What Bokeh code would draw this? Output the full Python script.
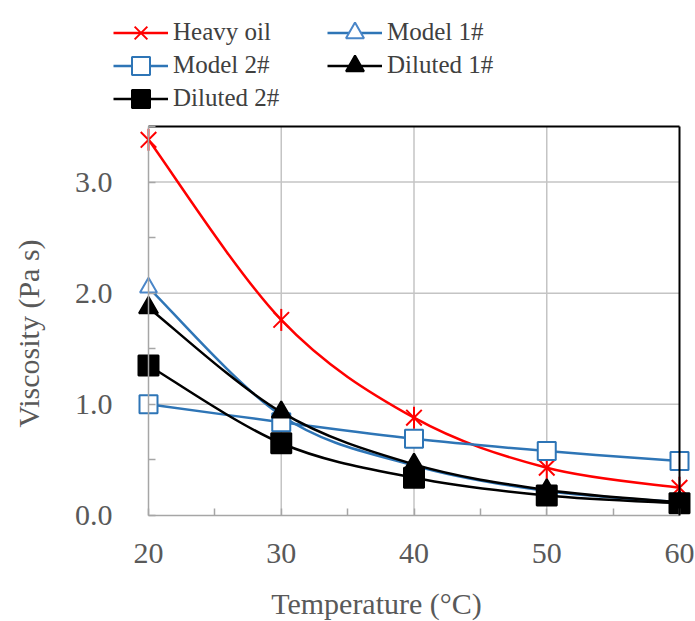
import numpy as np
from bokeh.plotting import figure
from bokeh.models import (Legend, LegendItem, SingleIntervalTicker, FixedTicker,
                          PrintfTickFormatter, Label, Range1d, LinearAxis)
from bokeh.embed import file_html
from bokeh.resources import INLINE

temperature = [20, 30, 40, 50, 60]
heavy_oil = [3.38, 1.76, 0.88, 0.43, 0.25]
model_1 = [2.05, 0.90, 0.45, 0.22, 0.12]
model_2 = [1.00, 0.84, 0.69, 0.58, 0.49]
diluted_1 = [1.87, 0.93, 0.46, 0.23, 0.12]
diluted_2 = [1.35, 0.65, 0.34, 0.18, 0.11]

x_ticks = [20, 30, 40, 50, 60]
y_ticks = [0.0, 1.0, 2.0, 3.0]
x_lim = (20, 60)
y_lim = (0, 3.5)
x_title = "Temperature (°C)"
y_title = "Viscosity (Pa s)"

FONT = "Liberation Serif"
TXT = "#595959"
RED = "#FF0000"
BLUE = "#2E75B6"
BLACK = "#000000"
GRID = "#C4C4C4"
W, H = 695, 621
# pixel placement of the axis box inside the page
PX_L, PX_R, PX_T, PX_B = 148, 679, 126, 515

sx = (PX_R - PX_L) / (x_lim[1] - x_lim[0])
sy = (PX_B - PX_T) / (y_lim[1] - y_lim[0])
x_range = Range1d(x_lim[0] - PX_L / sx, x_lim[1] + (W - PX_R) / sx)
y_range = Range1d(y_lim[0] - (H - PX_B) / sy, y_lim[1] + PX_T / sy)

p = figure(width=W, height=H, output_backend="svg", toolbar_location=None,
           x_range=x_range, y_range=y_range,
           x_axis_location=None, y_axis_location=None,
           min_border=0)
p.outline_line_color = None
p.xgrid.visible = False
p.ygrid.visible = False

# gridlines inside the axis box (derived from tick lists)
gx = [t for t in x_ticks if x_lim[0] < t < x_lim[1]]
gy = [t for t in y_ticks if y_lim[0] < t < y_lim[1]]
p.segment(x0=gx, y0=[y_lim[0]] * len(gx), x1=gx, y1=[y_lim[1]] * len(gx),
          line_color=GRID, line_width=1.5)
p.segment(x0=[x_lim[0]] * len(gy), y0=gy, x1=[x_lim[1]] * len(gy), y1=gy,
          line_color=GRID, line_width=1.5)

xt = SingleIntervalTicker(interval=10, num_minor_ticks=2)
yt = SingleIntervalTicker(interval=1, num_minor_ticks=2)
xaxis = LinearAxis(fixed_location=y_lim[0], bounds=x_lim, ticker=xt)
yaxis = LinearAxis(fixed_location=x_lim[0], bounds=y_lim, ticker=yt,
                   formatter=PrintfTickFormatter(format="%.1f"))
for ax in (xaxis, yaxis):
    ax.axis_line_color = "#A6A6A6"
    ax.axis_line_width = 1.5
    ax.major_tick_line_color = None
    ax.minor_tick_line_color = "#A6A6A6"
    ax.minor_tick_line_width = 1.5
    ax.minor_tick_in = 7
    ax.minor_tick_out = 0
    ax.major_label_text_font = FONT
    ax.major_label_text_font_size = "30px"
    ax.major_label_text_color = TXT
xaxis.major_label_standoff = 22
yaxis.major_label_standoff = 30
p.add_layout(xaxis, "below")
p.add_layout(yaxis, "left")

# black top and right frame lines
for loc, side, bnds in [(y_lim[1], "above", x_lim), (x_lim[1], "right", y_lim)]:
    a = LinearAxis(fixed_location=loc, bounds=bnds, ticker=FixedTicker(ticks=[]),
                   axis_line_color=BLACK, axis_line_width=2,
                   major_tick_line_color=None, minor_tick_line_color=None,
                   major_label_text_font_size="0px")
    p.add_layout(a, side)


def bez(xs, ys):
    xs = np.asarray(xs, float)
    ys = np.asarray(ys, float)
    n = len(xs)
    px = np.concatenate([[xs[0]], xs, [xs[-1]]])
    py = np.concatenate([[ys[0]], ys, [ys[-1]]])
    d = dict(x0=[], y0=[], x1=[], y1=[], cx0=[], cy0=[], cx1=[], cy1=[])
    for i in range(n - 1):
        a, b, c, e = i, i + 1, i + 2, i + 3
        d["x0"].append(px[b]); d["y0"].append(py[b])
        d["x1"].append(px[c]); d["y1"].append(py[c])
        d["cx0"].append(px[b] + (px[c] - px[a]) / 6); d["cy0"].append(py[b] + (py[c] - py[a]) / 6)
        d["cx1"].append(px[c] - (px[e] - px[b]) / 6); d["cy1"].append(py[c] - (py[e] - py[b]) / 6)
    return d


series = [
    ("Heavy oil", heavy_oil, RED, "x", 22, RED, True),
    ("Model 1#", model_1, BLUE, "triangle", 17, "white", False),
    ("Model 2#", model_2, BLUE, "square", 18, "white", False),
    ("Diluted 1#", diluted_1, BLACK, "triangle", 19, BLACK, False),
    ("Diluted 2#", diluted_2, BLACK, "square", 20, BLACK, False),
]

items = {}
for name, vals, col, mk, sz, fill, star in series:
    p.bezier(line_color=col, line_width=2.5, **bez(temperature, vals))
    # legend-only line sample (NaN point: nothing is drawn in the plot)
    leg_line = p.line(x=[np.nan], y=[np.nan], line_color=col, line_width=2.5)
    rs = [leg_line]
    mcol = "#4A86C8" if name == "Model 1#" else col
    r = p.scatter(temperature, vals, marker=mk, size=sz, line_color=mcol,
                  fill_color=fill, line_width=2)
    rs.append(r)
    if star:
        r2 = p.scatter(temperature, vals, marker="dash", angle=np.pi / 2, size=sz,
                       line_color=col, line_width=2)
        rs.append(r2)
    items[name] = rs

legend_rows = [["Heavy oil", "Model 1#"], ["Model 2#", "Diluted 1#"], ["Diluted 2#"]]
row_centers = [32, 65, 98]  # screen px from top
GH = 45
for names, cy in zip(legend_rows, row_centers):
    leg = Legend(items=[LegendItem(label=n, renderers=items[n]) for n in names],
                 orientation="horizontal",
                 location=(113, H - (cy + GH / 2)), border_line_color=None,
                 background_fill_alpha=0, padding=0, margin=0, spacing=4,
                 glyph_width=55, glyph_height=GH, label_height=29, label_width=150,
                 label_standoff=5, label_text_font=FONT, label_text_font_size="25px",
                 label_text_color="#404040")
    p.add_layout(leg, "center")

p.add_layout(Label(x=376, y=H - 603, x_units="screen", y_units="screen", text=x_title,
                   text_font=FONT, text_font_size="30px", text_color=TXT,
                   text_align="center", text_baseline="middle"))
p.add_layout(Label(x=28, y=H - 333, x_units="screen", y_units="screen", text=y_title,
                   text_font=FONT, text_font_size="30px", text_color=TXT,
                   text_align="center", text_baseline="middle", angle=np.pi / 2))

open("out.html", "w").write(file_html(p, INLINE))
